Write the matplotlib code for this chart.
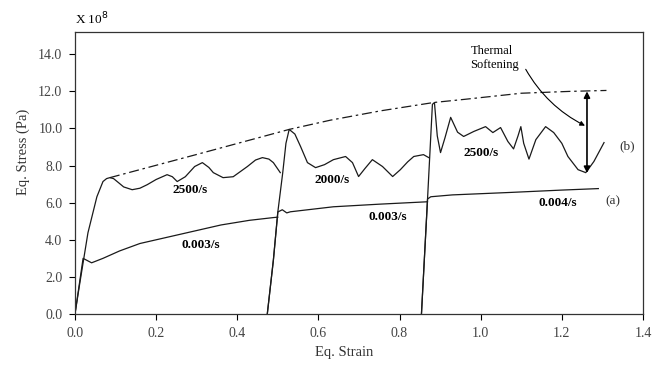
import numpy as np
import matplotlib
matplotlib.use("Agg")
import matplotlib.pyplot as plt

plt.rcParams['font.family'] = ['Liberation Serif', 'DejaVu Serif']

# quasi-static curves (a), stress in units of 1e8 Pa
a1_strain = [0.0, 0.020, 0.041, 0.069, 0.11, 0.16, 0.22, 0.29, 0.36, 0.43, 0.49, 0.50]
a1_stress = [0.0, 3.00, 2.76, 3.00, 3.40, 3.80, 4.10, 4.45, 4.80, 5.05, 5.20, 5.22]

a2_strain = [0.474, 0.489, 0.500, 0.511, 0.522, 0.531, 0.637, 0.75, 0.869]
a2_stress = [0.0, 2.90, 5.50, 5.62, 5.45, 5.51, 5.78, 5.92, 6.05]

a3_strain = [0.854, 0.869, 0.877, 0.93, 1.07, 1.20, 1.29]
a3_stress = [0.0, 6.20, 6.32, 6.42, 6.55, 6.68, 6.76]

# dynamic curves (b)
b1_strain = [0.0, 0.012, 0.032, 0.054, 0.069, 0.078, 0.086, 0.095, 0.104, 0.12, 0.141,
             0.16, 0.178, 0.20, 0.227, 0.24, 0.252, 0.272, 0.295, 0.314, 0.33, 0.341,
             0.365, 0.39, 0.425, 0.445, 0.462, 0.478, 0.489, 0.506]
b1_stress = [0.0, 1.68, 4.38, 6.32, 7.14, 7.30, 7.35, 7.30, 7.14, 6.85, 6.70,
             6.78, 6.97, 7.25, 7.51, 7.40, 7.14, 7.40, 7.95, 8.16, 7.90, 7.62,
             7.35, 7.40, 7.95, 8.30, 8.43, 8.35, 8.16, 7.62]

b2_strain = [0.474, 0.489, 0.500, 0.512, 0.520, 0.528, 0.542, 0.556, 0.573, 0.593, 0.615,
             0.637, 0.667, 0.684, 0.699, 0.715, 0.733, 0.758, 0.783, 0.802, 0.82, 0.835,
             0.859, 0.872]
b2_stress = [0.0, 2.90, 5.50, 7.60, 9.20, 9.95, 9.70, 9.03, 8.16, 7.89, 8.05,
             8.32, 8.49, 8.16, 7.41, 7.85, 8.32, 7.95, 7.41, 7.78, 8.20, 8.49,
             8.59, 8.43]

b3_strain = [0.854, 0.869, 0.881, 0.886, 0.893, 0.901, 0.912, 0.926, 0.943, 0.958,
             0.983, 1.012, 1.030, 1.049, 1.067, 1.081, 1.092, 1.099, 1.106, 1.119,
             1.136, 1.160, 1.180, 1.20, 1.215, 1.240, 1.259, 1.279, 1.304]
b3_stress = [0.0, 6.20, 11.30, 11.40, 9.60, 8.70, 9.50, 10.60, 9.80, 9.57,
             9.84, 10.10, 9.78, 10.05, 9.30, 8.90, 9.60, 10.10, 9.20, 8.35,
             9.40, 10.10, 9.78, 9.20, 8.49, 7.78, 7.62, 8.22, 9.24]

# upper envelope (no softening)
env_strain = [0.086, 0.30, 0.528, 0.63, 0.753, 0.884, 0.96, 1.10, 1.22, 1.31]
env_stress = [7.35, 8.60, 9.95, 10.45, 10.95, 11.40, 11.57, 11.90, 12.00, 12.05]

rate_labels = ["2500/s", "0.003/s", "2000/s", "0.003/s", "2500/s", "0.004/s"]
rate_x = [0.284, 0.309, 0.635, 0.77, 1.00, 1.19]
rate_y = [6.70, 3.73, 7.24, 5.24, 8.70, 6.00]

xticks = [0.0, 0.2, 0.4, 0.6, 0.8, 1.0, 1.2, 1.4]
yticks = [0.0, 2.0, 4.0, 6.0, 8.0, 10.0, 12.0, 14.0]

fig = plt.figure(figsize=(6.6, 3.65), dpi=100)
ax = fig.add_axes([0.1136, 0.1397, 0.8606, 0.7726])

lc = '#1a1a1a'
for xs, ys in [(a1_strain, a1_stress), (a2_strain, a2_stress), (a3_strain, a3_stress),
               (b1_strain, b1_stress), (b2_strain, b2_stress), (b3_strain, b3_stress)]:
    ax.plot(xs, ys, color=lc, lw=0.9)

ax.plot(env_strain, env_stress, color=lc, lw=0.9, linestyle=(0, (8, 3, 2, 3)))

for lab, x, y in zip(rate_labels, rate_x, rate_y):
    ax.text(x, y, lab, fontsize=9.5, fontweight='bold', ha='center', va='center')

ax.text(1.326, 6.05, "(a)", fontsize=9.5, ha='center', va='center', color='#333')
ax.text(1.36, 9.03, "(b)", fontsize=9.5, ha='center', va='center', color='#333')

ax.text(0.975, 13.8, "Thermal\nSoftening", fontsize=9, ha='left', va='center', linespacing=1.25)
ax.annotate("", xy=(1.257, 10.15), xytext=(1.111, 13.19),
            arrowprops=dict(arrowstyle='-|>', connectionstyle='arc3,rad=0.15', lw=0.8,
                            color='k', shrinkA=0, shrinkB=0, mutation_scale=7))
ax.annotate("", xy=(1.262, 7.6), xytext=(1.262, 12.0),
            arrowprops=dict(arrowstyle='<|-|>', lw=1.2, color='k',
                            shrinkA=0, shrinkB=0, mutation_scale=9))

ax.text(0.0, 1.045, r"X 10$^8$", transform=ax.transAxes, fontsize=9.5, ha='left', va='center')

ax.set_xlim(0, 1.4)
ax.set_ylim(0, 15.2)
ax.set_xticks(xticks)
ax.set_yticks(yticks)
ax.set_xticklabels(["%.1f" % t for t in xticks])
ax.set_yticklabels(["%.1f" % t for t in yticks])
ax.tick_params(direction='out', length=4, width=0.8, labelsize=10, labelcolor='#444', pad=5)
for s in ax.spines.values():
    s.set_linewidth(0.9)
    s.set_color('#333')

ax.set_xlabel("Eq. Strain", fontsize=10.5, color='#333')
ax.set_ylabel("Eq. Stress (Pa)", fontsize=10.5, color='#333')
ax.xaxis.set_label_coords(0.474, -0.115)
ax.yaxis.set_label_coords(-0.08, 0.574)

fig.savefig("out.png", dpi=100)
